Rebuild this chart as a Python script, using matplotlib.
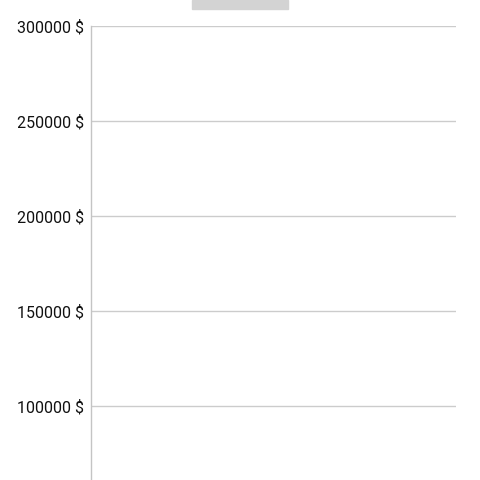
import matplotlib.pyplot as plt
from matplotlib.patches import Rectangle

# empty chart: only the value axis is drawn
categories = []
values = []
y_ticks = [100000, 150000, 200000, 250000, 300000]
y_min = 61000
y_max = 300000

plt.rcParams['font.family'] = ['Roboto', 'DejaVu Sans']

fig = plt.figure(figsize=(4.8, 4.8), dpi=100)
ax = fig.add_axes([91 / 480, 0, (456 - 91) / 480, 1 - 26 / 480])

ax.bar(categories, values)
ax.set_ylim(y_min, y_max)
ax.set_yticks(y_ticks)
ax.set_yticklabels([f"{v} $" for v in y_ticks], fontsize=11.5, color='#111111')
ax.tick_params(axis='y', length=0, pad=5)
ax.set_xticks([])
ax.grid(axis='y', color='#cccccc', linewidth=1)
ax.set_axisbelow(True)

for side in ['top', 'right', 'bottom']:
    ax.spines[side].set_visible(False)
ax.spines['left'].set_color('#c4c4c4')
ax.spines['left'].set_linewidth(1)

# grey placeholder box above the plot
fig.patches.append(Rectangle((192 / 480, 1 - 9 / 480), 96 / 480, 9 / 480,
                             transform=fig.transFigure, color='#d3d3d3', zorder=5))

fig.savefig('out.png', dpi=100)
